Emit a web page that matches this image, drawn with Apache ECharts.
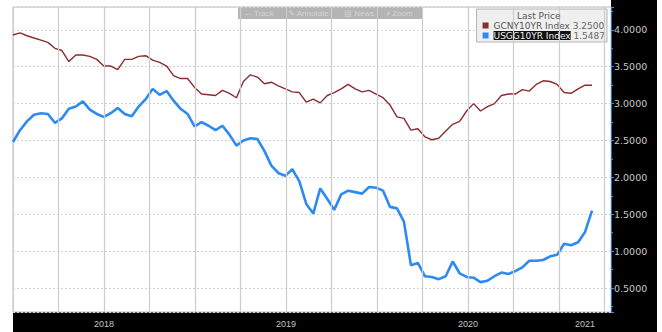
<!DOCTYPE html>
<html>
<head>
<meta charset="utf-8">
<script src="https://cdn.jsdelivr.net/npm/echarts@6/dist/echarts.min.js"></script>
<style>
  html, body { margin: 0; padding: 0; background: #fff; }
  #main { width: 662px; height: 332px; }
</style>
</head>
<body>
<div id="main"></div>
<script>
// 10Y government bond yields, one point every two weeks from the start of 2018
var startDate = '2018-01-01';
var endDate = '2021-04-15';   // right edge of the plot
var stepDays = 14;

var cnyName = 'GCNY10YR Index';
var usName = 'USGG10YR Index';

var cnyValues = [3.93, 3.96, 3.92, 3.89, 3.86, 3.83, 3.75, 3.72, 3.57, 3.66,
  3.66, 3.64, 3.60, 3.51, 3.51, 3.46, 3.60, 3.60, 3.64, 3.65,
  3.59, 3.56, 3.51, 3.38, 3.34, 3.34, 3.22, 3.13, 3.12, 3.11,
  3.18, 3.14, 3.08, 3.30, 3.39, 3.36, 3.27, 3.29, 3.24, 3.20,
  3.16, 3.15, 3.02, 3.06, 3.01, 3.11, 3.15, 3.20, 3.26, 3.20,
  3.16, 3.18, 3.13, 3.08, 2.98, 2.82, 2.80, 2.64, 2.66, 2.55,
  2.51, 2.53, 2.63, 2.72, 2.76, 2.90, 3.00, 2.90, 2.96, 3.00,
  3.11, 3.13, 3.13, 3.19, 3.17, 3.26, 3.31, 3.30, 3.26, 3.15,
  3.14, 3.20, 3.25, 3.25];

var usValues = [2.48, 2.64, 2.76, 2.85, 2.87, 2.86, 2.74, 2.80, 2.93, 2.96,
  3.03, 2.92, 2.86, 2.82, 2.87, 2.94, 2.86, 2.83, 2.96, 3.06,
  3.20, 3.12, 3.17, 3.04, 2.93, 2.86, 2.69, 2.75, 2.70, 2.64,
  2.70, 2.58, 2.43, 2.50, 2.53, 2.52, 2.36, 2.16, 2.06, 2.02,
  2.11, 1.95, 1.64, 1.51, 1.85, 1.71, 1.56, 1.77, 1.82, 1.80,
  1.78, 1.87, 1.86, 1.82, 1.60, 1.58, 1.40, 0.81, 0.84, 0.66,
  0.65, 0.62, 0.66, 0.86, 0.70, 0.65, 0.64, 0.58, 0.60, 0.66,
  0.71, 0.69, 0.73, 0.78, 0.87, 0.87, 0.88, 0.93, 0.95, 1.10,
  1.08, 1.12, 1.26, 1.5487];

var years = [2018, 2019, 2020, 2021];

var red = '#8b2c31';
var blue = '#2d8af2';

// date -> decimal year
function toYear(ms) {
  var d = new Date(ms);
  var y = d.getUTCFullYear();
  var s = Date.UTC(y, 0, 1), e = Date.UTC(y + 1, 0, 1);
  return y + (ms - s) / (e - s);
}
var t0 = Date.parse(startDate);
function toSeries(values) {
  return values.map(function (v, i) {
    return [toYear(t0 + i * stepDays * 864e5), v];
  });
}
var xMin = years[0];
var xMax = toYear(Date.parse(endDate));
// year labels sit in the middle of the visible part of each year
var yearCenters = years.map(function (y) {
  return (y + Math.min(y + 1, xMax)) / 2;
});
// quarter starts inside the plot -> vertical grid lines
var quarterStarts = [];
years.forEach(function (y) {
  [0, 0.25, 0.5, 0.75].forEach(function (q) {
    if (y + q > xMin && y + q < xMax) quarterStarts.push(y + q);
  });
});

var cnyLast = cnyValues[cnyValues.length - 1];
var usLast = usValues[usValues.length - 1];

function priceTag(value, color, textColor) {
  return {
    silent: true,
    symbol: 'none',
    lineStyle: { opacity: 0 },
    data: [{ yAxis: value }],
    label: {
      position: 'end',
      distance: 1,
      formatter: function (p) { return p.value.toFixed(4); },
      backgroundColor: color,
      color: textColor,
      fontSize: 9,
      padding: [1, 3, 0, 3]
    }
  };
}

var chart = echarts.init(document.getElementById('main'), null, { renderer: 'svg' });
chart.setOption({
  animation: false,
  backgroundColor: '#fff',
  textStyle: { fontFamily: 'DejaVu Sans' },
  title: {
    text: 'Last Price',
    left: 517,
    top: 11,
    padding: 0,
    textStyle: { fontSize: 9, fontWeight: 'normal', color: '#555' }
  },
  legend: {
    orient: 'vertical',
    right: 55,
    top: 9,
    data: [cnyName, usName],
    selectedMode: false,
    icon: 'rect',
    itemWidth: 6,
    itemHeight: 6,
    itemGap: 1,
    backgroundColor: '#efefef',
    borderColor: '#b5b5b5',
    borderWidth: 1,
    padding: [12, 2, 2, 6],
    textStyle: {
      fontSize: 9,
      color: '#555',
      rich: {
        n: { fontSize: 9, color: '#555' },
        h: { fontSize: 9, color: '#eee', backgroundColor: '#111' },
        v: { fontSize: 9, color: '#666' }
      }
    },
    formatter: function (name) {
      if (name === usName) return '{h|' + name + '} {v|' + usLast.toFixed(4) + '}';
      return '{n|' + name + '} {v|' + cnyLast.toFixed(4) + '}';
    }
  },
  grid: {
    left: 13, right: 51, top: 7, bottom: 20,
    show: true,
    borderColor: '#bdbdbd',
    borderWidth: 1,
    outerBoundsMode: 'none'
  },
  xAxis: {
    type: 'value',
    min: xMin,
    max: xMax,
    interval: 0.25,
    axisLine: { show: false },
    axisTick: { show: false },
    splitLine: { show: true, lineStyle: { color: '#cdcdcd', width: 1 } },
    axisLabel: {
      customValues: yearCenters,
      formatter: function (v) { return String(Math.floor(v + 1e-6)); },
      color: '#c4c4c4',
      fontSize: 9,
      margin: 7,
      fontFamily: 'Liberation Sans'
    }
  },
  yAxis: {
    type: 'value',
    position: 'right',
    min: 0.175,
    max: 4.31,
    splitNumber: 8,
    axisLine: { show: true, lineStyle: { color: '#2a6cc4', width: 1 } },
    axisTick: { show: true, length: 3, lineStyle: { color: '#3a8ee6' } },
    minorTick: { show: true, splitNumber: 2, length: 2, lineStyle: { color: '#3a8ee6' } },
    splitLine: { show: true, lineStyle: { color: '#d2d2d2', type: [2, 2] } },
    axisLabel: {
      showMinLabel: false,
      showMaxLabel: false,
      formatter: function (v) { return v.toFixed(4); },
      color: '#c8c8c8',
      fontSize: 9.5,
      margin: 3
    }
  },
  graphic: [
    // black axis strips on the right and bottom
    { type: 'rect', z: -1, shape: { x: 611, y: 0, width: 46, height: 332 }, style: { fill: '#000' } },
    { type: 'rect', z: -1, shape: { x: 13, y: 312, width: 644, height: 20 }, style: { fill: '#000' } },
    // faded toolbar at the top
    { type: 'rect', shape: { x: 238, y: 7, width: 184, height: 12 }, style: { fill: '#acacac', opacity: 0.9 } },
    { type: 'text', x: 244, y: 13, style: { text: '\u2190 Track', fill: '#d4d4d4', fontSize: 8, verticalAlign: 'middle' } },
    { type: 'text', x: 288, y: 13, style: { text: '\u270e Annotate', fill: '#d4d4d4', fontSize: 8, verticalAlign: 'middle' } },
    { type: 'text', x: 344, y: 13, style: { text: '\u25a4 News', fill: '#d4d4d4', fontSize: 8, verticalAlign: 'middle' } },
    { type: 'text', x: 386, y: 13, style: { text: '\u2315 Zoom', fill: '#d4d4d4', fontSize: 8, verticalAlign: 'middle' } }
  ],
  series: [
    {
      // vertical quarter grid lines, kept under the data lines
      name: 'quarters',
      type: 'line',
      data: [[xMin, null]],
      z: 1,
      markLine: {
        silent: true,
        symbol: 'none',
        label: { show: false },
        lineStyle: { color: '#cdcdcd', width: 1.2, type: 'solid' },
        data: quarterStarts.map(function (q) { return { xAxis: q }; })
      }
    },
    {
      name: cnyName,
      type: 'line',
      data: toSeries(cnyValues),
      showSymbol: false,
      lineStyle: { color: red, width: 1.4 },
      itemStyle: { color: red },
      markLine: priceTag(cnyLast, '#8e1f24', '#f3d3d3')
    },
    {
      name: usName,
      type: 'line',
      data: toSeries(usValues),
      showSymbol: false,
      lineStyle: { color: blue, width: 2.6 },
      itemStyle: { color: blue },
      markLine: priceTag(usLast, '#2d8af2', '#ffffff')
    }
  ]
});
</script>
</body>
</html>
